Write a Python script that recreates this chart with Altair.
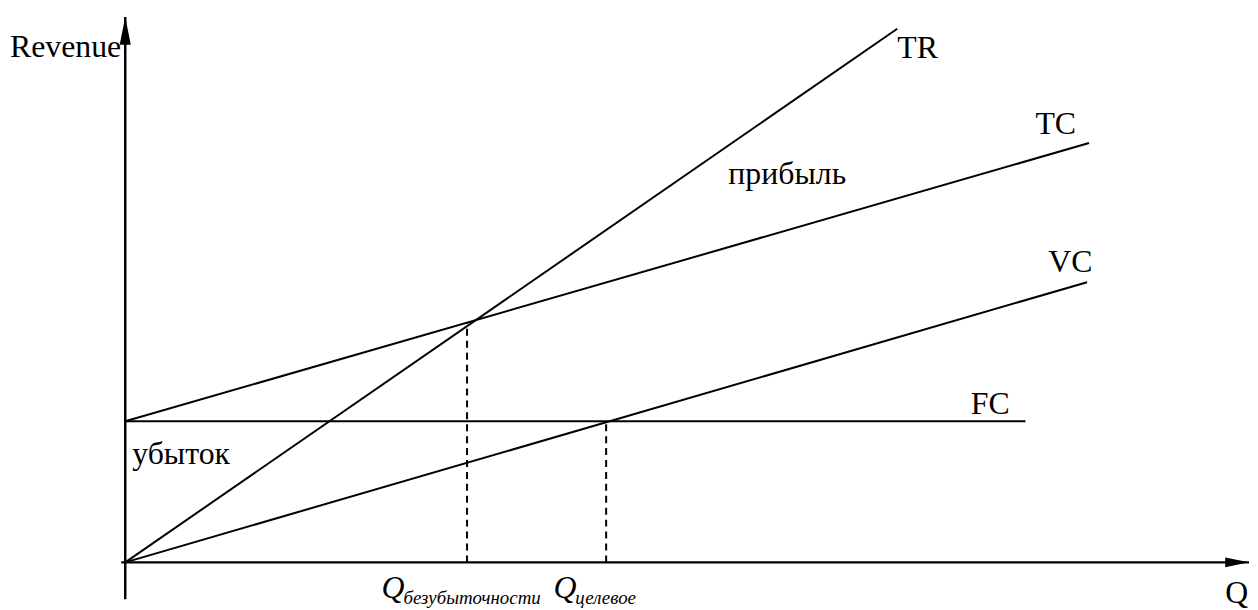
import altair as alt
import pandas as pd

# --- data (Q units on x, Revenue units on y) ---
line_names = ["TR", "TC", "VC", "FC"]
line_q0 = [0.0, 0.0, 0.0, 0.0]
line_q1 = [77.7, 97.0, 96.8, 90.6]
line_r0 = [0.0, 14.2, 0.0, 14.2]
line_r1 = [53.7, 42.2, 28.2, 14.2]

guide_names = ["breakeven", "target"]
guide_q = [34.4, 48.4]
guide_r = [24.1, 14.2]

axis_names = ["Q", "Revenue"]
axis_q0 = [-0.4, 0.0]
axis_q1 = [113.1, 0.0]
axis_r0 = [0.0, -3.7]
axis_r1 = [0.0, 54.9]

label_text = ["Revenue", "TR", "TC", "VC", "FC", "прибыль", "убыток", "Q"]
label_q = [-11.6, 77.7, 91.6, 92.9, 85.1, 60.7, 0.7, 110.7]
label_r = [50.9, 50.8, 43.1, 29.2, 14.9, 38.1, 9.9, -4.1]

qlabel_q = [25.8, 43.1]
qlabel_r = [-3.6, -3.6]
sub_text = ["безубыточности", "целевое"]
sub_q = [28.0, 45.3]
sub_r = [-4.2, -4.2]

XDOM = [-11.8, 113.2]
YDOM = [-4.6, 55.6]
FONT = "Liberation Serif"

xs = alt.Scale(domain=XDOM, nice=False, zero=False)
ys = alt.Scale(domain=YDOM, nice=False, zero=False)

lines_df = pd.DataFrame({"name": line_names, "q0": line_q0, "q1": line_q1,
                         "r0": line_r0, "r1": line_r1})
guides_df = pd.DataFrame({"name": guide_names, "q": guide_q, "r": guide_r,
                          "zero": [0.0, 0.0]})
axes_df = pd.DataFrame({"name": axis_names, "q0": axis_q0, "q1": axis_q1,
                        "r0": axis_r0, "r1": axis_r1})
labels_df = pd.DataFrame({"t": label_text, "q": label_q, "r": label_r})
qlab_df = pd.DataFrame({"t": ["Q", "Q"], "q": qlabel_q, "r": qlabel_r})
sub_df = pd.DataFrame({"t": sub_text, "q": sub_q, "r": sub_r})

X = lambda f: alt.X(f, type="quantitative", scale=xs, axis=None)
Y = lambda f: alt.Y(f, type="quantitative", scale=ys, axis=None)

lines = alt.Chart(lines_df).mark_rule(color="black", strokeWidth=2).encode(
    x=X("q0"), x2="q1", y=Y("r0"), y2="r1")

guides = alt.Chart(guides_df).mark_rule(color="black", strokeWidth=2,
                                        strokeDash=[7, 5]).encode(
    x=X("q"), y=Y("zero"), y2="r")

axes = alt.Chart(axes_df).mark_rule(color="black", strokeWidth=2.5).encode(
    x=X("q0"), x2="q1", y=Y("r0"), y2="r1")

up_df = axes_df[axes_df["name"] == "Revenue"]
right_df = axes_df[axes_df["name"] == "Q"]
arrow_up = alt.Chart(up_df).mark_point(
    shape="M0,0L-0.4,2L0.4,2Z", size=784, filled=True, fill="black",
    stroke=None, opacity=1).encode(x=X("q1"), y=Y("r1"))
arrow_right = alt.Chart(right_df).mark_point(
    shape="M0,0L-2,-0.4L-2,0.4Z", size=576, filled=True, fill="black",
    stroke=None, opacity=1).encode(x=X("q1"), y=Y("r1"))

labels = alt.Chart(labels_df).mark_text(
    font=FONT, fontSize=32, align="left", baseline="alphabetic",
    color="black").encode(x=X("q"), y=Y("r"), text="t")

qlabels = alt.Chart(qlab_df).mark_text(
    font=FONT, fontSize=32, fontStyle="italic", align="left",
    baseline="alphabetic", color="black").encode(x=X("q"), y=Y("r"), text="t")

subs = alt.Chart(sub_df).mark_text(
    font=FONT, fontSize=19, fontStyle="italic", align="left",
    baseline="alphabetic", color="black").encode(x=X("q"), y=Y("r"), text="t")

chart = alt.layer(lines, guides, axes, arrow_up, arrow_right,
                  labels, qlabels, subs).properties(
    width=1250, height=602, padding=0,
    autosize=alt.AutoSizeParams(type="none"),
    background="white",
).configure_view(stroke=None)

chart.save("out.html", embed_options={"renderer": "svg", "actions": False})
